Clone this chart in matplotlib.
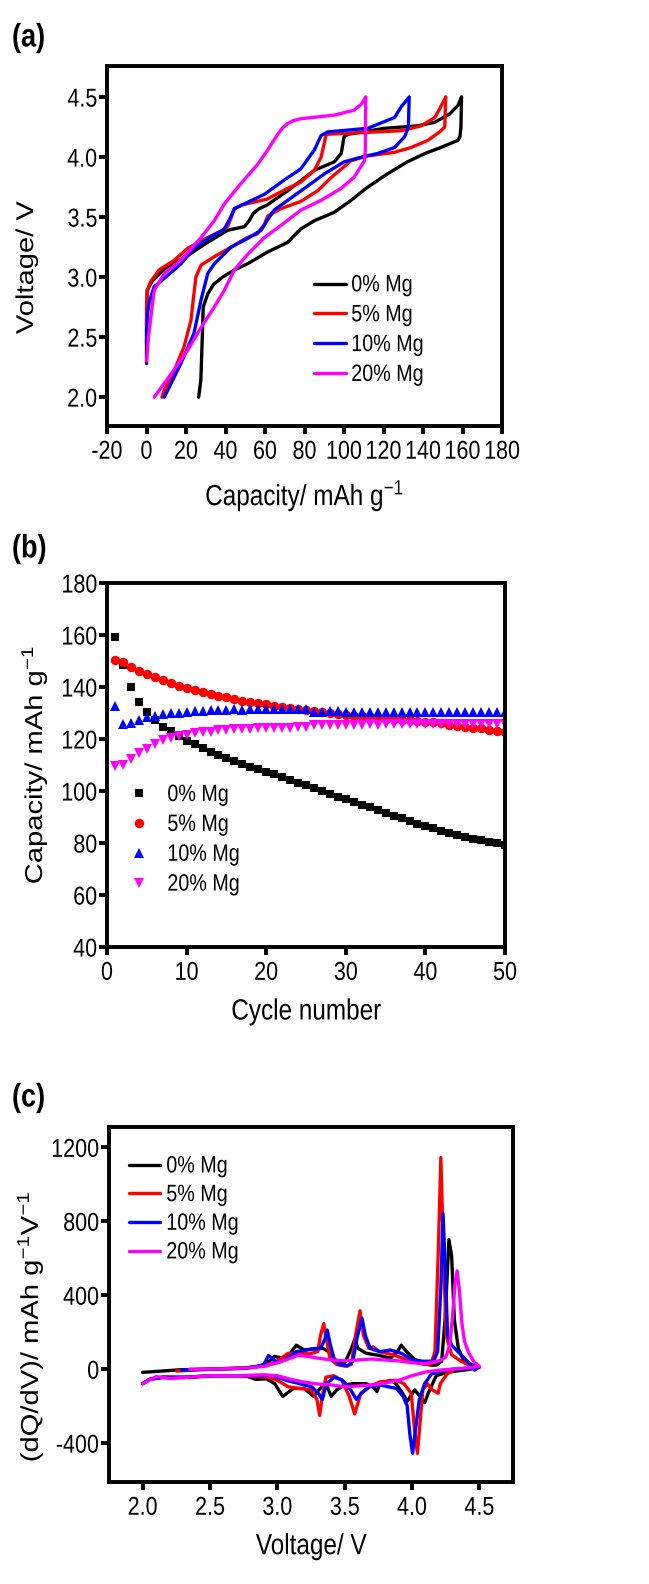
import matplotlib
matplotlib.use("Agg")
import matplotlib.pyplot as plt
import numpy as np
from matplotlib.patheffects import AbstractPathEffect
from matplotlib.transforms import Affine2D

plt.rcParams["font.family"] = ["Liberation Sans", "DejaVu Sans"]
plt.rcParams["mathtext.fontset"] = "custom"
plt.rcParams["mathtext.rm"] = "Liberation Sans"
plt.rcParams["mathtext.default"] = "regular"
plt.rcParams["axes.unicode_minus"] = False

labels = ["0% Mg", "5% Mg", "10% Mg", "20% Mg"]
colors = ["#000000", "#ff0000", "#0000ff", "#ff00ff"]

# ---- (a) first charge / discharge profiles ----
a0_chg_cap = [0, 0, 0.3, 3, 10, 20.8, 30, 41, 49.5, 52, 54, 57, 61, 71.5, 85, 95, 98.6, 100, 102, 120.5, 137, 146, 153.5, 157.7, 159.5]
a0_chg_v = [2.28, 2.6, 2.89, 2.97, 3.08, 3.18, 3.28, 3.39, 3.42, 3.47, 3.53, 3.57, 3.6, 3.72, 3.89, 3.96, 4.03, 4.17, 4.19, 4.24, 4.26, 4.29, 4.36, 4.43, 4.5]
a0_dis_cap = [159.5, 159.2, 158.7, 157.7, 149, 141, 132, 122, 112, 103.6, 95, 85, 78, 75, 71.5, 61.4, 51, 44.5, 38.5, 34, 31, 28.7, 28.3, 27.5, 26.4]
a0_dis_v = [4.5, 4.25, 4.17, 4.14, 4.08, 4.03, 3.96, 3.86, 3.75, 3.64, 3.54, 3.47, 3.40, 3.35, 3.29, 3.21, 3.11, 3.06, 3.0, 2.94, 2.86, 2.75, 2.53, 2.14, 2.0]

a5_chg_cap = [0, 0, 0.5, 2, 6.4, 14, 20.8, 31, 38.5, 41, 43, 44.5, 48, 61, 71.5, 78, 85, 88.4, 91, 103.6, 129, 139, 146, 149, 151.5]
a5_chg_v = [2.6, 2.75, 2.89, 2.96, 3.06, 3.14, 3.24, 3.33, 3.39, 3.42, 3.50, 3.57, 3.6, 3.65, 3.74, 3.79, 3.89, 4.0, 4.19, 4.2, 4.22, 4.26, 4.33, 4.42, 4.5]
a5_dis_cap = [151.5, 151.0, 148.4, 142.5, 134, 125.6, 112, 103.6, 93.5, 86.7, 78, 68, 61.4, 59.7, 56, 51, 42.8, 34.3, 27.6, 25, 24, 22.5, 19, 14, 9, 7.8]
a5_dis_v = [4.5, 4.25, 4.21, 4.14, 4.08, 4.04, 4.01, 3.97, 3.83, 3.72, 3.63, 3.57, 3.51, 3.44, 3.36, 3.33, 3.25, 3.17, 3.10, 3.0, 2.86, 2.64, 2.42, 2.22, 2.06, 2.0]

a10_chg_cap = [0, 0.5, 1.5, 3.9, 9, 17.4, 24, 31, 39.4, 42, 44.5, 49.5, 59.7, 69.8, 78, 85, 88.4, 91.8, 112, 125.6, 129, 133]
a10_chg_v = [2.45, 2.7, 2.8, 2.92, 2.99, 3.11, 3.24, 3.32, 3.40, 3.48, 3.57, 3.61, 3.69, 3.81, 3.90, 4.06, 4.18, 4.21, 4.24, 4.33, 4.42, 4.5]
a10_dis_cap = [133, 132.6, 130.7, 125.6, 117, 108.7, 100, 90, 81.7, 71.5, 64.7, 61, 58, 51, 42.8, 34.3, 31, 27.6, 24, 17.4, 12.3, 9]
a10_dis_v = [4.5, 4.25, 4.17, 4.08, 4.03, 4.0, 3.96, 3.86, 3.76, 3.64, 3.56, 3.47, 3.39, 3.32, 3.25, 3.11, 3.03, 2.81, 2.53, 2.28, 2.11, 2.0]

a20_chg_cap = [0, 1, 2, 3.9, 9, 17.4, 27.6, 34.3, 39.4, 47.8, 56.3, 61.4, 66.4, 69, 71.5, 74.5, 78.3, 95, 105, 108.7, 111]
a20_chg_v = [2.30, 2.5, 2.64, 2.89, 3.03, 3.14, 3.33, 3.47, 3.61, 3.78, 3.94, 4.06, 4.19, 4.245, 4.28, 4.305, 4.32, 4.35, 4.39, 4.44, 4.5]
a20_dis_cap = [111, 110.8, 110.4, 105, 98.6, 88.4, 78.3, 68, 59.7, 51.2, 44.5, 39.4, 34.3, 27.6, 20.8, 12.3, 3.9]
a20_dis_v = [4.5, 4.06, 3.97, 3.83, 3.74, 3.64, 3.56, 3.43, 3.33, 3.19, 3.06, 2.89, 2.75, 2.58, 2.39, 2.19, 2.0]

# ---- (b) cycling performance ----
cycles = list(range(1, 51))
b0_cap = [159.2, 148.5, 140.1, 134.4, 130.3, 127.2, 124.8, 123.0, 121.0, 119.4,
          118.0, 116.6, 115.2, 114.0, 112.8, 111.6, 110.6, 109.4, 108.4, 107.5,
          106.4, 105.4, 104.3, 103.2, 102.2, 101.0, 100.0, 98.9, 97.9, 96.9,
          95.8, 94.8, 93.7, 92.6, 91.6, 90.6, 89.5, 88.5, 87.5, 86.6,
          85.7, 84.8, 84.0, 83.2, 82.4, 81.7, 81.0, 80.4, 79.9, 79.3]
b5_cap = [150.6, 149.8, 147.8, 146.2, 145.0, 143.8, 142.6, 141.5, 140.6, 139.8,
          138.9, 138.1, 137.4, 136.7, 136.0, 135.4, 134.8, 134.3, 133.8, 133.3,
          132.8, 132.3, 131.9, 131.5, 131.1, 130.7, 130.3, 129.9, 129.6, 129.3,
          129.0, 128.7, 128.4, 128.2, 127.9, 127.7, 127.5, 127.2, 127.0, 126.7,
          126.4, 126.0, 125.6, 125.2, 124.8, 124.4, 124.1, 123.3, 123.2, 122.8]
b10_cap = [132.7, 125.9, 126.2, 127.3, 128.3, 129.0, 129.5, 129.9, 130.2, 130.6,
           130.8, 130.9, 131.0, 131.2, 131.2, 131.4, 131.3, 131.5, 131.6, 131.7,
           131.7, 131.6, 131.5, 131.6, 131.6, 130.3, 130.6, 130.7, 130.7, 130.6,
           130.6, 130.5, 130.6, 130.6, 130.5, 130.6, 130.6, 130.5, 130.6, 130.6,
           130.5, 130.6, 130.6, 130.5, 130.6, 130.5, 130.6, 130.6, 130.5, 130.6]
b20_cap = [109.7, 110.0, 112.3, 114.5, 116.3, 118.2, 119.5, 120.4, 121.1, 121.7,
           122.2, 122.6, 122.9, 123.3, 123.5, 123.7, 123.8, 123.9, 124.1, 124.2,
           124.3, 124.4, 124.4, 124.5, 124.5, 125.5, 125.4, 125.4, 125.5, 125.6,
           125.6, 125.6, 125.7, 125.6, 125.7, 125.7, 125.7, 125.8, 125.7, 125.8,
           125.8, 125.8, 125.8, 125.9, 125.8, 125.9, 125.9, 125.9, 125.9, 125.9]

# ---- (c) differential capacity curves (charge branch then discharge branch) ----
c0_v = [2.00, 2.28, 2.76, 2.90, 2.98, 3.04, 3.08, 3.14, 3.20, 3.28, 3.34, 3.38, 3.44, 3.50, 3.55, 3.574, 3.60, 3.66, 3.76, 3.84, 3.89, 3.92, 3.96, 4.02, 4.08, 4.14, 4.18, 4.22, 4.245, 4.274, 4.294, 4.314, 4.344, 4.38, 4.44, 4.50,
        4.42, 4.34, 4.26, 4.18, 4.12, 4.094, 4.06, 4.02, 3.964, 3.93, 3.88, 3.84, 3.76, 3.74, 3.71, 3.66, 3.56, 3.50, 3.44, 3.40, 3.36, 3.31, 3.27, 3.20, 3.12, 3.04, 2.98, 2.92, 2.84, 2.76, 2.56, 2.36, 2.16, 2.06, 2.00]
c0_dq = [-17, -3, 5, 20, 69, 60, 69, 130, 104, 112, 112, 95, 35, 35, 112, 160, 112, 86, 74, 60, 95, 130, 95, 52, 30, 22, 22, 43, 268, 700, 613, 268, 112, 52, 26, 12,
         -2, -9, -17, -35, -130, -181, -147, -112, -173, -130, -78, -60, -78, -121, -95, -78, -78, -86, -112, -147, -78, -110, -147, -104, -104, -147, -78, -52, -55, -35, -35, -43, -43, -52, -78]

c5_v = [2.25, 2.50, 2.80, 2.90, 2.95, 3.00, 3.08, 3.16, 3.24, 3.30, 3.32, 3.344, 3.36, 3.39, 3.44, 3.50, 3.55, 3.58, 3.614, 3.64, 3.68, 3.71, 3.76, 3.86, 3.96, 4.06, 4.14, 4.17, 4.194, 4.214, 4.234, 4.254, 4.294, 4.364, 4.44, 4.50,
        4.42, 4.32, 4.26, 4.21, 4.194, 4.15, 4.114, 4.08, 4.064, 4.04, 4.02, 3.994, 3.94, 3.88, 3.76, 3.68, 3.62, 3.574, 3.534, 3.48, 3.42, 3.36, 3.334, 3.314, 3.294, 3.25, 3.16, 3.08, 3.00, 2.92, 2.70, 2.50, 2.30, 2.15, 2.05, 2.00]
c5_dq = [-10, 0, 10, 20, 30, 45, 86, 86, 83, 95, 181, 247, 181, 60, 26, 17, 26, 181, 316, 181, 112, 121, 95, 78, 52, 30, 26, 95, 613, 1145, 613, 181, 78, 43, 17, 12,
         5, 0, -26, -78, -130, -112, -78, -112, -250, -455, -337, -130, -78, -60, -69, -95, -130, -242, -147, -60, -35, -43, -147, -250, -164, -112, -104, -95, -60, -43, -35, -35, -45, -42, -55, -78]

c10_v = [2.29, 2.50, 2.75, 2.85, 2.90, 2.934, 2.96, 3.00, 3.06, 3.14, 3.22, 3.32, 3.354, 3.37, 3.394, 3.42, 3.46, 3.52, 3.56, 3.59, 3.628, 3.654, 3.69, 3.76, 3.84, 3.92, 4.00, 4.08, 4.16, 4.19, 4.214, 4.23, 4.248, 4.264, 4.294, 4.364, 4.434, 4.464, 4.50,
         4.44, 4.30, 4.214, 4.144, 4.094, 4.054, 4.024, 4.004, 3.984, 3.964, 3.934, 3.884, 3.764, 3.684, 3.624, 3.588, 3.544, 3.484, 3.424, 3.364, 3.334, 3.304, 3.254, 3.164, 3.064, 2.964, 2.70, 2.50, 2.30, 2.15, 2.05, 2.00]
c10_dq = [-5, 0, 5, 15, 26, 74, 60, 35, 52, 95, 104, 112, 164, 212, 130, 60, 26, 17, 43, 164, 276, 181, 112, 95, 104, 86, 52, 43, 43, 95, 440, 841, 527, 181, 130, 78, 26, -5, 12,
          5, 0, -9, -26, -78, -164, -337, -455, -354, -199, -147, -104, -86, -95, -130, -164, -112, -60, -43, -78, -164, -130, -95, -78, -60, -35, -35, -35, -45, -45, -55, -78]

c20_v = [2.35, 2.60, 2.80, 2.90, 3.00, 3.10, 3.15, 3.20, 3.30, 3.40, 3.50, 3.60, 3.70, 3.80, 3.90, 4.00, 4.10, 4.20, 4.25, 4.28, 4.30, 4.32, 4.335, 4.35, 4.37, 4.39, 4.42, 4.46, 4.50,
         4.45, 4.30, 4.20, 4.10, 4.00, 3.90, 3.80, 3.70, 3.60, 3.50, 3.40, 3.30, 3.20, 3.10, 3.00, 2.90, 2.70, 2.50, 2.30, 2.20, 2.10, 2.00]
c20_dq = [0, 2, 8, 15, 35, 60, 75, 72, 60, 50, 45, 50, 55, 50, 45, 35, 30, 45, 65, 130, 280, 470, 532, 440, 250, 150, 90, 40, 15,
          10, 0, -5, -15, -35, -60, -75, -85, -90, -95, -85, -80, -70, -55, -35, -30, -35, -35, -45, -50, -40, -78]

TICK_FS = 15.5
LABEL_FS = 17.5
LEG_FS = 14.2
LW = 2.4
SPINE_W = 2.8
TALL = 1.2  # glyphs are drawn taller than wide


class Stretch(AbstractPathEffect):
    """Scale text glyphs about their own centre, in the text's local frame."""

    def __init__(self, sx=1.0, sy=1.0):
        super().__init__()
        self.sx, self.sy = sx, sy

    def draw_path(self, renderer, gc, tpath, affine, rgbFace=None):
        bb = tpath.get_extents()
        cx, cy = 0.5 * (bb.x0 + bb.x1), 0.5 * (bb.y0 + bb.y1)
        local = Affine2D().translate(-cx, -cy).scale(self.sx, self.sy).translate(cx, cy)
        renderer.draw_path(gc, tpath, local + affine, rgbFace)


TALL_H = [Stretch(1.0, TALL)]   # horizontal text
TALL_V = [Stretch(TALL, 1.0)]   # text rotated by 90 degrees


def style_axes(ax):
    for s in ax.spines.values():
        s.set_linewidth(SPINE_W)
    ax.tick_params(direction="out", length=5.5, width=SPINE_W, labelsize=TICK_FS,
                   top=False, right=False)
    ax.tick_params(axis="x", pad=5.5)
    ax.tick_params(axis="y", pad=1.5)


def finish_text(ax, leg, xl, yl):
    for t in ax.get_xticklabels() + ax.get_yticklabels():
        t.set_path_effects(TALL_H)
    for t in leg.get_texts():
        t.set_path_effects(TALL_H)
    ax.xaxis.label.set_va("center")
    ax.yaxis.label.set_va("center")
    ax.xaxis.set_label_coords(*xl)
    ax.yaxis.set_label_coords(*yl)
    ax.xaxis.label.set_path_effects(TALL_H)
    ax.yaxis.label.set_path_effects(TALL_V)


fig = plt.figure(figsize=(6.49, 15.84), dpi=100)

# (a)
ax_a = fig.add_axes([0.1649, 0.7311, 0.6086, 0.2273])
a_chg = [(a0_chg_cap, a0_chg_v), (a5_chg_cap, a5_chg_v), (a10_chg_cap, a10_chg_v), (a20_chg_cap, a20_chg_v)]
a_dis = [(a0_dis_cap, a0_dis_v), (a5_dis_cap, a5_dis_v), (a10_dis_cap, a10_dis_v), (a20_dis_cap, a20_dis_v)]
for (cx, cy), (dx, dy), col, lab in zip(a_chg, a_dis, colors, labels):
    ax_a.plot(cx, cy, color=col, lw=LW, label=lab, solid_joinstyle="round", solid_capstyle="round")
    ax_a.plot(dx, dy, color=col, lw=LW, solid_joinstyle="round", solid_capstyle="round")
ax_a.set_xlim(-20, 180)
ax_a.set_ylim(1.76, 4.76)
ax_a.set_xticks(np.arange(-20, 181, 20))
ax_a.set_yticks([2.0, 2.5, 3.0, 3.5, 4.0, 4.5])
ax_a.set_yticklabels(["2.0", "2.5", "3.0", "3.5", "4.0", "4.5"])
style_axes(ax_a)
ax_a.set_xlabel("Capacity/ mAh g$^{-1}$", fontsize=LABEL_FS)
ax_a.set_ylabel("Voltage/ V", fontsize=LABEL_FS)
leg_a = ax_a.legend(loc="upper left", bbox_to_anchor=(0.525, 0.418), frameon=False, fontsize=LEG_FS,
                    handlelength=1.62, handletextpad=0.25, labelspacing=0.55, borderaxespad=0, borderpad=0)
finish_text(ax_a, leg_a, (0.5, -0.194), (-0.2025, 0.439))

# (b)
ax_b = fig.add_axes([0.1649, 0.4021, 0.6133, 0.2298])
ax_b.plot(cycles, b0_cap, "s", color=colors[0], ms=5.8, mew=0, label=labels[0])
ax_b.plot(cycles, b5_cap, "o", color=colors[1], ms=6.8, mew=0, label=labels[1])
ax_b.plot(cycles, b10_cap, "^", color=colors[2], ms=7.2, mew=0, label=labels[2])
ax_b.plot(cycles, b20_cap, "v", color=colors[3], ms=7.2, mew=0, label=labels[3])
ax_b.set_xlim(0, 50)
ax_b.set_ylim(40, 180)
ax_b.set_xticks(np.arange(0, 51, 10))
ax_b.set_yticks(np.arange(40, 181, 20))
style_axes(ax_b)
ax_b.set_xlabel("Cycle number", fontsize=LABEL_FS)
ax_b.set_ylabel("Capacity/ mAh g$^{-1}$", fontsize=LABEL_FS)
leg_b = ax_b.legend(loc="upper left", bbox_to_anchor=(0.055, 0.445), frameon=False, fontsize=LEG_FS,
                    handlelength=1.0, handletextpad=0.95, labelspacing=0.55, borderaxespad=0, borderpad=0)
finish_text(ax_b, leg_b, (0.5, -0.179), (-0.183, 0.5))

# (c)
ax_c = fig.add_axes([0.1680, 0.0644, 0.6225, 0.2241])
for vx, dq, col, lab in zip([c0_v, c5_v, c10_v, c20_v], [c0_dq, c5_dq, c10_dq, c20_dq], colors, labels):
    ax_c.plot(vx, dq, color=col, lw=LW, label=lab, solid_joinstyle="round", solid_capstyle="round")
ax_c.set_xlim(1.75, 4.75)
ax_c.set_ylim(-610, 1310)
ax_c.set_xticks([2.0, 2.5, 3.0, 3.5, 4.0, 4.5])
ax_c.set_xticklabels(["2.0", "2.5", "3.0", "3.5", "4.0", "4.5"])
ax_c.set_yticks([-400, 0, 400, 800, 1200])
style_axes(ax_c)
ax_c.set_xlabel("Voltage/ V", fontsize=LABEL_FS)
ax_c.set_ylabel("(dQ/dV)/ mAh g$^{-1}$V$^{-1}$", fontsize=LABEL_FS)
leg_c = ax_c.legend(loc="upper left", bbox_to_anchor=(0.049, 0.917), frameon=False, fontsize=LEG_FS,
                    handlelength=1.6, handletextpad=0.3, labelspacing=0.49, borderaxespad=0, borderpad=0)
finish_text(ax_c, leg_c, (0.5, -0.183), (-0.1955, 0.437))

# panel letters
for txt, ypix in [("(a)", 38), ("(b)", 549), ("(c)", 1098)]:
    fig.text(12 / 649, 1 - ypix / 1584, txt, fontsize=19.5, fontweight="bold",
             va="center", ha="left", path_effects=TALL_H)

fig.savefig("out.png", dpi=100)
